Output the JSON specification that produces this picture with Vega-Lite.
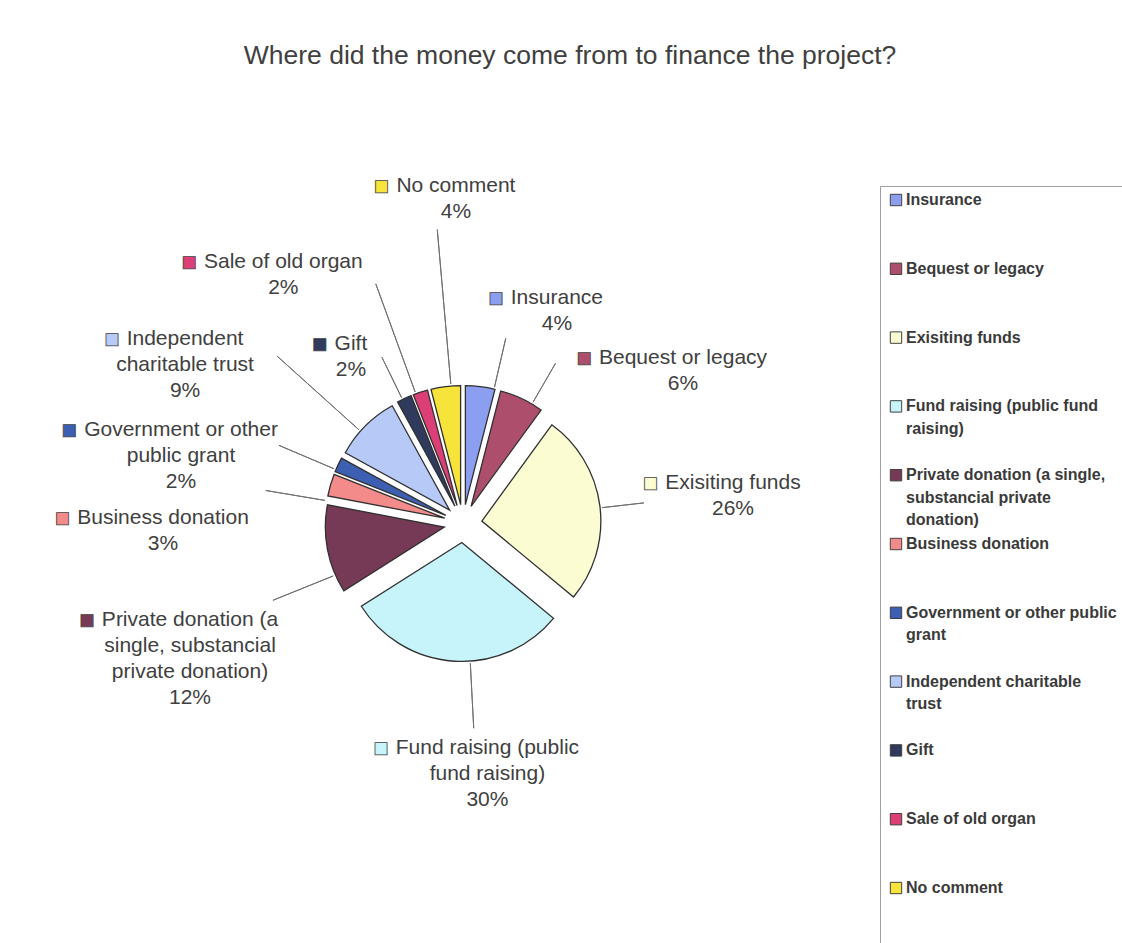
{
  "$schema": "https://vega.github.io/schema/vega-lite/v6.json",
  "width": 906,
  "height": 839,
  "autosize": {"type": "none"},
  "padding": {"left": 10, "top": 104, "right": 206, "bottom": 0},
  "background": "white",
  "title": {
    "text": "Where did the money come from to finance the project?",
    "font": "Liberation Sans",
    "fontSize": 26.5,
    "fontWeight": "normal",
    "color": "#404040",
    "anchor": "middle",
    "frame": "group",
    "dx": 107,
    "offset": 14,
    "baseline": "alphabetic"
  },
  "data": {
    "values": [
      {"i": 0, "cat": "Insurance", "pct": 4},
      {"i": 1, "cat": "Bequest or legacy", "pct": 6},
      {"i": 2, "cat": "Exisiting funds", "pct": 26},
      {"i": 3, "cat": "Fund raising (public fund raising)", "pct": 30},
      {"i": 4, "cat": "Private donation (a single, substancial private donation)", "pct": 12},
      {"i": 5, "cat": "Business donation", "pct": 3},
      {"i": 6, "cat": "Government or other public grant", "pct": 2},
      {"i": 7, "cat": "Independent charitable trust", "pct": 9},
      {"i": 8, "cat": "Gift", "pct": 2},
      {"i": 9, "cat": "Sale of old organ", "pct": 2},
      {"i": 10, "cat": "No comment", "pct": 4}
    ]
  },
  "transform": [
    {"stack": "pct", "groupby": [], "sort": [{"field": "i", "order": "ascending"}], "as": ["s0", "s1"]}
  ],
  "layer": [
    {
      "mark": {
        "type": "arc",
        "radius": 119,
        "stroke": "#303030",
        "strokeWidth": 1.3,
        "xOffset": {"expr": "19*sin(PI*(datum.s0+datum.s1)/100)"},
        "yOffset": {"expr": "-19*cos(PI*(datum.s0+datum.s1)/100)"}
      },
      "encoding": {
        "theta": {"field": "s0", "type": "quantitative", "scale": {"domain": [0, 100]}},
        "theta2": {"field": "s1"},
        "color": {
          "field": "cat",
          "type": "nominal",
          "scale": {
            "domain": ["Insurance", "Bequest or legacy", "Exisiting funds", "Fund raising (public fund raising)", "Private donation (a single, substancial private donation)", "Business donation", "Government or other public grant", "Independent charitable trust", "Gift", "Sale of old organ", "No comment"],
            "range": ["#8c9ef0", "#ad4f6c", "#fcfcd2", "#c6f4fa", "#773a56", "#f38b8b", "#3d5fb2", "#b7c9f6", "#2f3a5c", "#dc3f75", "#f6e43a"]
          },
          "legend": {
            "title": " ",
            "titleOrient": "bottom",
            "titleFontSize": 40,
            "titlePadding": 20,
            "orient": "none",
            "legendX": 870,
            "legendY": 82,
            "direction": "vertical",
            "columns": 1,
            "gridAlign": "all",
            "rowPadding": 7.8,
            "padding": 6,
            "symbolOffset": 2,
            "symbolType": "square",
            "symbolSize": 130,
            "symbolStrokeColor": "#505050",
            "symbolStrokeWidth": 1,
            "labelFont": "Liberation Sans",
            "labelFontSize": 16,
            "labelFontWeight": "bold",
            "labelColor": "#3a3a3a",
            "labelLimit": 400,
            "labelOffset": 2,
            "labelBaseline": "middle",
            "labelExpr": "split(trim(replace(datum.label, regexp('(.{1,27})(\\\\s+|$)', 'g'), '$1\\n')), '\\n')",
            "strokeColor": "#a0a0a0",
            "fillColor": "white"
          }
        }
      }
    },
    {
      "mark": {
        "type": "arc",
        "fillOpacity": 0,
        "stroke": "#707070",
        "strokeWidth": 1,
        "theta": {"expr": "PI*(datum.s0+datum.s1)/100 + [5.8,4.8,0.7,-6.6,-11.2,-6.7,-2.2,-3,-0.8,-2,2.2][datum.i]*PI/180"},
        "theta2": {"expr": "PI*(datum.s0+datum.s1)/100 + [5.8,4.8,0.7,-6.6,-11.2,-6.7,-2.2,-3,-0.8,-2,2.2][datum.i]*PI/180"},
        "radius": {"expr": "[190,185,182,205,205,200,200,250,185,255,295][datum.i]"},
        "radius2": 140
      },
      "encoding": {}
    },
    {
      "mark": {
        "type": "text",
        "font": "Liberation Sans",
        "fontSize": 21,
        "color": "#404040",
        "align": "center",
        "baseline": "middle",
        "lineHeight": 26,
        "theta": {"expr": "PI*(datum.s0+datum.s1)/100 + [15.4,27.85,-1.3,-9.8,-8.7,-15.2,-6.85,-11.4,-6.8,-16.5,6.0][datum.i]*PI/180"},
        "radius": {"expr": "[244.3,275.3,273.0,226.1,289.6,300.0,297.1,333.7,211.6,317.2,337.6][datum.i]"},
        "text": {"expr": "split(trim(replace(datum.cat, regexp('(.{1,20})(\\\\s+|$)', 'g'), '$1\\n')) + '\\n' + datum.pct + '%', '\\n')"}
      },
      "encoding": {}
    },
    {
      "mark": {
        "type": "text",
        "font": "Liberation Sans",
        "fontSize": 25,
        "text": "■",
        "align": "center",
        "baseline": "middle",
        "stroke": "#404040",
        "strokeWidth": 0.8,
        "theta": {"expr": "PI*(datum.s0+datum.s1)/100 + [15.4,27.85,-1.3,-9.8,-8.7,-15.2,-6.85,-11.4,-6.8,-16.5,6.0][datum.i]*PI/180"},
        "radius": {"expr": "[244.3,275.3,273.0,226.1,289.6,300.0,297.1,333.7,211.6,317.2,337.6][datum.i]"},
        "dx": {"expr": "-(10.5*(0.556*length(split(replace(datum.cat, regexp('(.{1,20})(\\\\s+|$)', 'g'), '$1\\n'), '\\n')[0]) - 0.334*length(replace(split(replace(datum.cat, regexp('(.{1,20})(\\\\s+|$)', 'g'), '$1\\n'), '\\n')[0], regexp('[^ijl]','g'), '')) - 0.278*length(replace(split(replace(datum.cat, regexp('(.{1,20})(\\\\s+|$)', 'g'), '$1\\n'), '\\n')[0], regexp('[^ ftI,.]','g'), '')) - 0.223*length(replace(split(replace(datum.cat, regexp('(.{1,20})(\\\\s+|$)', 'g'), '$1\\n'), '\\n')[0], regexp('[^r()]','g'), '')) - 0.056*length(replace(split(replace(datum.cat, regexp('(.{1,20})(\\\\s+|$)', 'g'), '$1\\n'), '\\n')[0], regexp('[^cksvxyz]','g'), '')) + 0.111*length(replace(split(replace(datum.cat, regexp('(.{1,20})(\\\\s+|$)', 'g'), '$1\\n'), '\\n')[0], regexp('[^BEPS]','g'), '')) + 0.055*length(replace(split(replace(datum.cat, regexp('(.{1,20})(\\\\s+|$)', 'g'), '$1\\n'), '\\n')[0], regexp('[^F]','g'), '')) + 0.166*length(replace(split(replace(datum.cat, regexp('(.{1,20})(\\\\s+|$)', 'g'), '$1\\n'), '\\n')[0], regexp('[^wN]','g'), '')) + 0.222*length(replace(split(replace(datum.cat, regexp('(.{1,20})(\\\\s+|$)', 'g'), '$1\\n'), '\\n')[0], regexp('[^G]','g'), '')) + 0.277*length(replace(split(replace(datum.cat, regexp('(.{1,20})(\\\\s+|$)', 'g'), '$1\\n'), '\\n')[0], regexp('[^m]','g'), ''))) + 15)"}
      },
      "encoding": {
        "color": {"field": "cat", "type": "nominal"}
      }
    }
  ],
  "config": {
    "view": {"stroke": null},
    "style": {"guide-label": {"lineHeight": 22.5}}
  }
}
